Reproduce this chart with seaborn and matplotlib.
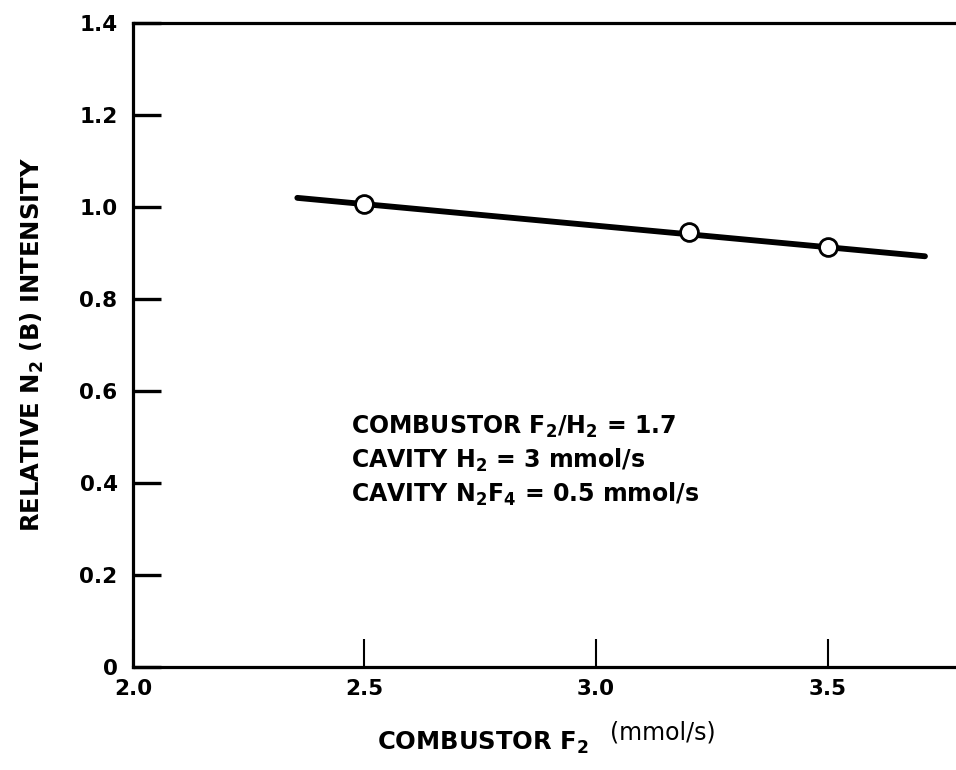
import matplotlib
matplotlib.use("Agg")
import matplotlib.pyplot as plt
import seaborn as sns
import pandas as pd

# Data
fit_x = [2.355, 3.71]
fit_y = [1.020, 0.893]
point_x = [2.5, 3.2, 3.5]
point_y = [1.006, 0.945, 0.914]
xticks = [2.0, 2.5, 3.0, 3.5]
xticklabels = ["2.0", "2.5", "3.0", "3.5"]
yticks = [0, 0.2, 0.4, 0.6, 0.8, 1.0, 1.2, 1.4]
yticklabels = ["0", "0.2", "0.4", "0.6", "0.8", "1.0", "1.2", "1.4"]
notes = [r"COMBUSTOR F$_2$/H$_2$ = 1.7",
         r"CAVITY H$_2$ = 3 mmol/s",
         r"CAVITY N$_2$F$_4$ = 0.5 mmol/s"]

sns.set_theme(style="ticks")
plt.rcParams["font.family"] = ["DejaVu Sans"]
plt.rcParams["text.color"] = "black"
plt.rcParams["mathtext.fontset"] = "custom"
plt.rcParams["mathtext.rm"] = "DejaVu Sans:bold"
plt.rcParams["mathtext.it"] = "DejaVu Sans:bold"
plt.rcParams["mathtext.bf"] = "DejaVu Sans:bold"
plt.rcParams["mathtext.default"] = "rm"

fig = plt.figure(figsize=(9.56, 7.70), dpi=100)
ax = fig.add_axes([0.139, 0.1338, 0.861, 0.8362])

fit_df = pd.DataFrame({"x": fit_x, "y": fit_y})
pts_df = pd.DataFrame({"x": point_x, "y": point_y})
sns.lineplot(data=fit_df, x="x", y="y", ax=ax, color="black", linewidth=4.2,
             solid_capstyle="round")
sns.scatterplot(data=pts_df, x="x", y="y", ax=ax, s=165, color="white",
                edgecolor="black", linewidth=2.0, zorder=5)

ax.set_xlim(2.0, 3.777)
ax.set_ylim(0, 1.4)
ax.set_xticks(xticks)
ax.set_xticklabels(xticklabels, fontsize=15.5, fontweight="bold", color="black")
ax.set_yticks(yticks)
ax.set_yticklabels(yticklabels, fontsize=15.5, fontweight="bold", color="black")
ax.tick_params(axis="y", direction="in", length=20, width=2.4, pad=11, colors="black")
ax.tick_params(axis="x", direction="in", length=20, width=1.5, pad=9, colors="black")
for side in ["left", "bottom", "top"]:
    ax.spines[side].set_linewidth(2.3)
    ax.spines[side].set_color("black")
ax.spines["right"].set_visible(False)
ax.set_xlabel("")
ax.set_ylabel("")

fig.text(0.034, 0.552, r"RELATIVE N$_2$ (B) INTENSITY", rotation=90,
         ha="center", va="center", fontsize=17.5, fontweight="bold", color="black")
fig.text(0.505, 0.026, r"COMBUSTOR F$_2$", ha="center", va="baseline",
         fontsize=17.5, fontweight="bold", color="black")
fig.text(0.638, 0.040, "(mmol/s)", ha="left", va="baseline", fontsize=17,
         color="black")

for i, t in enumerate(notes):
    ax.text(2.47, 0.522 - i * 0.073, t, ha="left", va="center",
            fontsize=17, fontweight="bold", color="black")

fig.savefig("out.png", dpi=100)
